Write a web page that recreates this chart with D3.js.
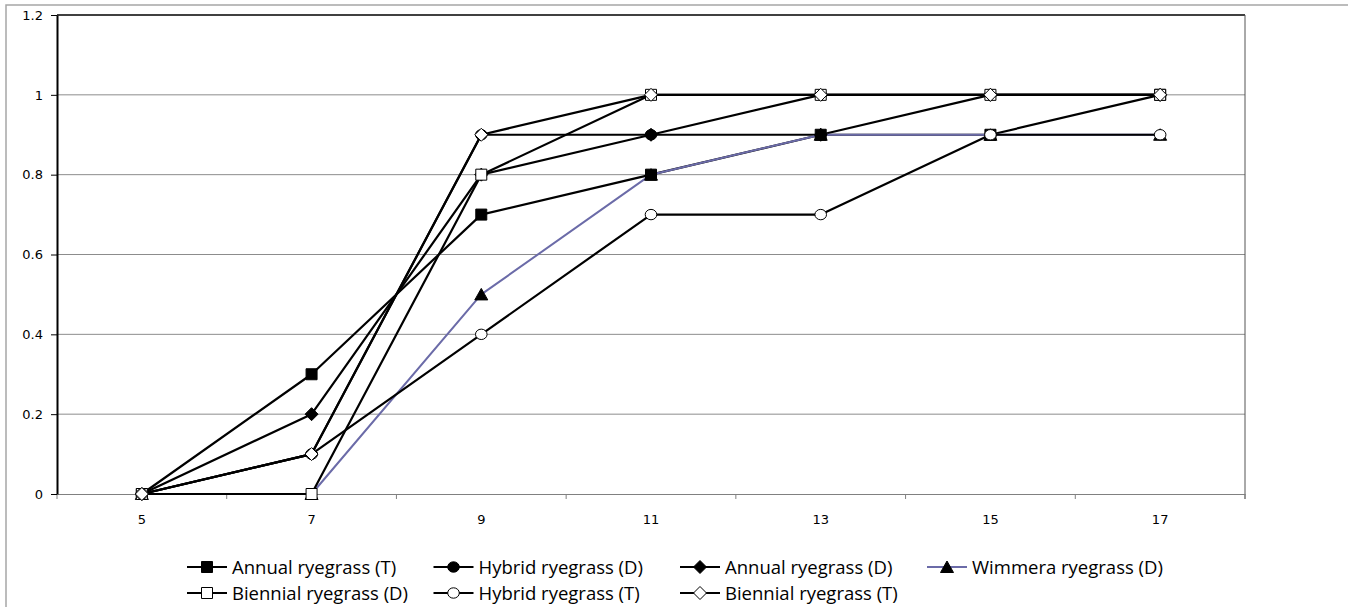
<!DOCTYPE html>
<html>
<head>
<meta charset="utf-8">
<script src="https://cdn.jsdelivr.net/npm/d3@7"></script>
<style>
  html, body { margin: 0; padding: 0; background: #fff; }
  svg { display: block; }
</style>
</head>
<body>
<svg id="chart" width="1348" height="607"></svg>
<script>
// ---- data ----
const categories = ["5", "7", "9", "11", "13", "15", "17"];
const yTickValues = [0, 0.2, 0.4, 0.6, 0.8, 1, 1.2];
const yTickLabels = ["0", "0.2", "0.4", "0.6", "0.8", "1", "1.2"];

const seriesNames = [
  "Annual ryegrass (T)",
  "Hybrid ryegrass (D)",
  "Annual ryegrass (D)",
  "Wimmera ryegrass (D)",
  "Biennial ryegrass (D)",
  "Hybrid ryegrass (T)",
  "Biennial ryegrass (T)"
];
const annualT   = [0, 0.3, 0.7, 0.8, 0.9, 0.9, 1.0];
const hybridD   = [0, 0.1, 0.9, 0.9, 1.0, 1.0, 1.0];
const annualD   = [0, 0.2, 0.8, 0.9, 0.9, 1.0, 1.0];
const wimmeraD  = [0, 0, 0.5, 0.8, 0.9, 0.9, 0.9];
const biennialD = [0, 0, 0.8, 1.0, 1.0, 1.0, 1.0];
const hybridT   = [0, 0.1, 0.4, 0.7, 0.7, 0.9, 0.9];
const biennialT = [0, 0.1, 0.9, 1.0, 1.0, 1.0, 1.0];
const seriesValues = [annualT, hybridD, annualD, wimmeraD, biennialD, hybridT, biennialT];

(function () {
// ---- styles ----
const seriesStyle = [
  { line: "#000", marker: "square",   fill: "#000" },
  { line: "#000", marker: "circle",   fill: "#000" },
  { line: "#000", marker: "diamond",  fill: "#000" },
  { line: "#6B6BA8", marker: "triangle", fill: "#000" },
  { line: "#000", marker: "square",   fill: "#fff" },
  { line: "#000", marker: "circle",   fill: "#fff" },
  { line: "#000", marker: "diamond",  fill: "#fff" }
];

function markerPath(type) {
  switch (type) {
    case "square":  { const h = 5.5; return `M${-h},${-h}H${h}V${h}H${-h}Z`; }
    case "diamond": { const h = 6.5; return `M0,${-h}L${h},0L0,${h}L${-h},0Z`; }
    case "triangle":{ return `M0,-6L6.5,5.5L-6.5,5.5Z`; }
    case "circle":  { const rx = 5.8, ry = 5.2; return `M${-rx},0A${rx},${ry} 0 1,0 ${rx},0A${rx},${ry} 0 1,0 ${-rx},0Z`; }
  }
}

const svg = d3.select("#chart");
const pLeft = 57, pRight = 1245, pTop = 15, pBottom = 494;
const axisFont = "DejaVu Sans";
const axisSize = 13;

// outer chart border
svg.append("rect").attr("x", 6).attr("y", 5).attr("width", 1360).attr("height", 700)
  .attr("fill", "none").attr("stroke", "#a6a6a6").attr("stroke-width", 1.5);

const x = d3.scaleBand().domain(categories).range([pLeft, pRight]).padding(0);
const y = d3.scaleLinear().domain([0, 1.2]).range([pBottom, pTop]);
const cx = c => x(c) + x.bandwidth() / 2;

// gridlines
svg.append("g").selectAll("line").data(yTickValues.filter(v => v > 0 && v < 1.2)).join("line")
  .attr("x1", pLeft).attr("x2", pRight)
  .attr("y1", d => y(d)).attr("y2", d => y(d))
  .attr("stroke", "#8c8c8c").attr("stroke-width", 1);

// plot border: top black, right dark gray
svg.append("line").attr("x1", pLeft).attr("x2", pRight).attr("y1", y(1.2)).attr("y2", y(1.2))
  .attr("stroke", "#000").attr("stroke-width", 1.5);
svg.append("line").attr("x1", pRight).attr("x2", pRight).attr("y1", pTop).attr("y2", pBottom + 5)
  .attr("stroke", "#555").attr("stroke-width", 1);

// x axis (line only) + labels
const gx = svg.append("g").attr("transform", `translate(0,${pBottom})`)
  .call(d3.axisBottom(x).tickSize(0).tickSizeOuter(0).tickFormat(""));
gx.select(".domain").attr("stroke", "#808080").attr("stroke-width", 1);
svg.append("g").selectAll("text").data(categories).join("text")
  .attr("x", d => cx(d)).attr("y", pBottom + 30)
  .attr("text-anchor", "middle")
  .attr("font-family", axisFont).attr("font-size", axisSize).attr("fill", "#000")
  .text(d => d);
// category boundary ticks
const boundaries = categories.map(c => x(c)).concat([pRight]);
svg.append("g").selectAll("line").data(boundaries).join("line")
  .attr("x1", d => d).attr("x2", d => d).attr("y1", pBottom).attr("y2", pBottom + 5)
  .attr("stroke", "#808080").attr("stroke-width", 1);

// y axis (line + ticks) + labels
const gy = svg.append("g").attr("transform", `translate(${pLeft},0)`)
  .call(d3.axisLeft(y).tickValues(yTickValues).tickFormat("").tickSize(6).tickSizeOuter(0));
gy.select(".domain").attr("stroke", "#000").attr("stroke-width", 2);
gy.selectAll(".tick line").attr("stroke", "#000").attr("stroke-width", 1);
svg.append("g").selectAll("text").data(yTickValues).join("text")
  .attr("x", pLeft - 14).attr("y", d => y(d)).attr("dy", "0.36em")
  .attr("text-anchor", "end")
  .attr("font-family", axisFont).attr("font-size", axisSize).attr("fill", "#000")
  .text((d, i) => yTickLabels[i]);

// lines (all first, then markers)
const lineGen = d3.line().x((d, i) => cx(categories[i])).y(d => y(d));
const gLines = svg.append("g");
seriesValues.forEach((vals, s) => {
  gLines.append("path").datum(vals).attr("d", lineGen)
    .attr("fill", "none").attr("stroke", seriesStyle[s].line)
    .attr("stroke-width", s === 3 ? 2 : 2.2).attr("stroke-linejoin", "round");
});
const gMarks = svg.append("g");
seriesValues.forEach((vals, s) => {
  gMarks.selectAll(null).data(vals).join("path")
    .attr("transform", (d, i) => `translate(${cx(categories[i])},${y(d)})`)
    .attr("d", markerPath(seriesStyle[s].marker))
    .attr("fill", seriesStyle[s].fill).attr("stroke", "#000").attr("stroke-width", 1);
});

// legend
const legendX = [187, 433.5, 680, 927];
const legendY = [567, 593];
const gLeg = svg.append("g");
seriesNames.forEach((name, s) => {
  const col = s < 4 ? s : s - 4;
  const row = s < 4 ? 0 : 1;
  const lx = legendX[col], ly = legendY[row];
  const g = gLeg.append("g").attr("transform", `translate(${lx},${ly})`);
  g.append("line").attr("x1", 0).attr("x2", 40).attr("y1", 0).attr("y2", 0)
    .attr("stroke", seriesStyle[s].line).attr("stroke-width", 2);
  g.append("path").attr("transform", "translate(20,0)").attr("d", markerPath(seriesStyle[s].marker))
    .attr("fill", seriesStyle[s].fill).attr("stroke", "#000").attr("stroke-width", 1);
  g.append("text").attr("x", 45).attr("y", 0).attr("dy", "0.36em")
    .attr("font-family", "Open Sans").attr("font-size", 18.5).attr("fill", "#000")
    .text(name);
});
})();
</script>
</body>
</html>
